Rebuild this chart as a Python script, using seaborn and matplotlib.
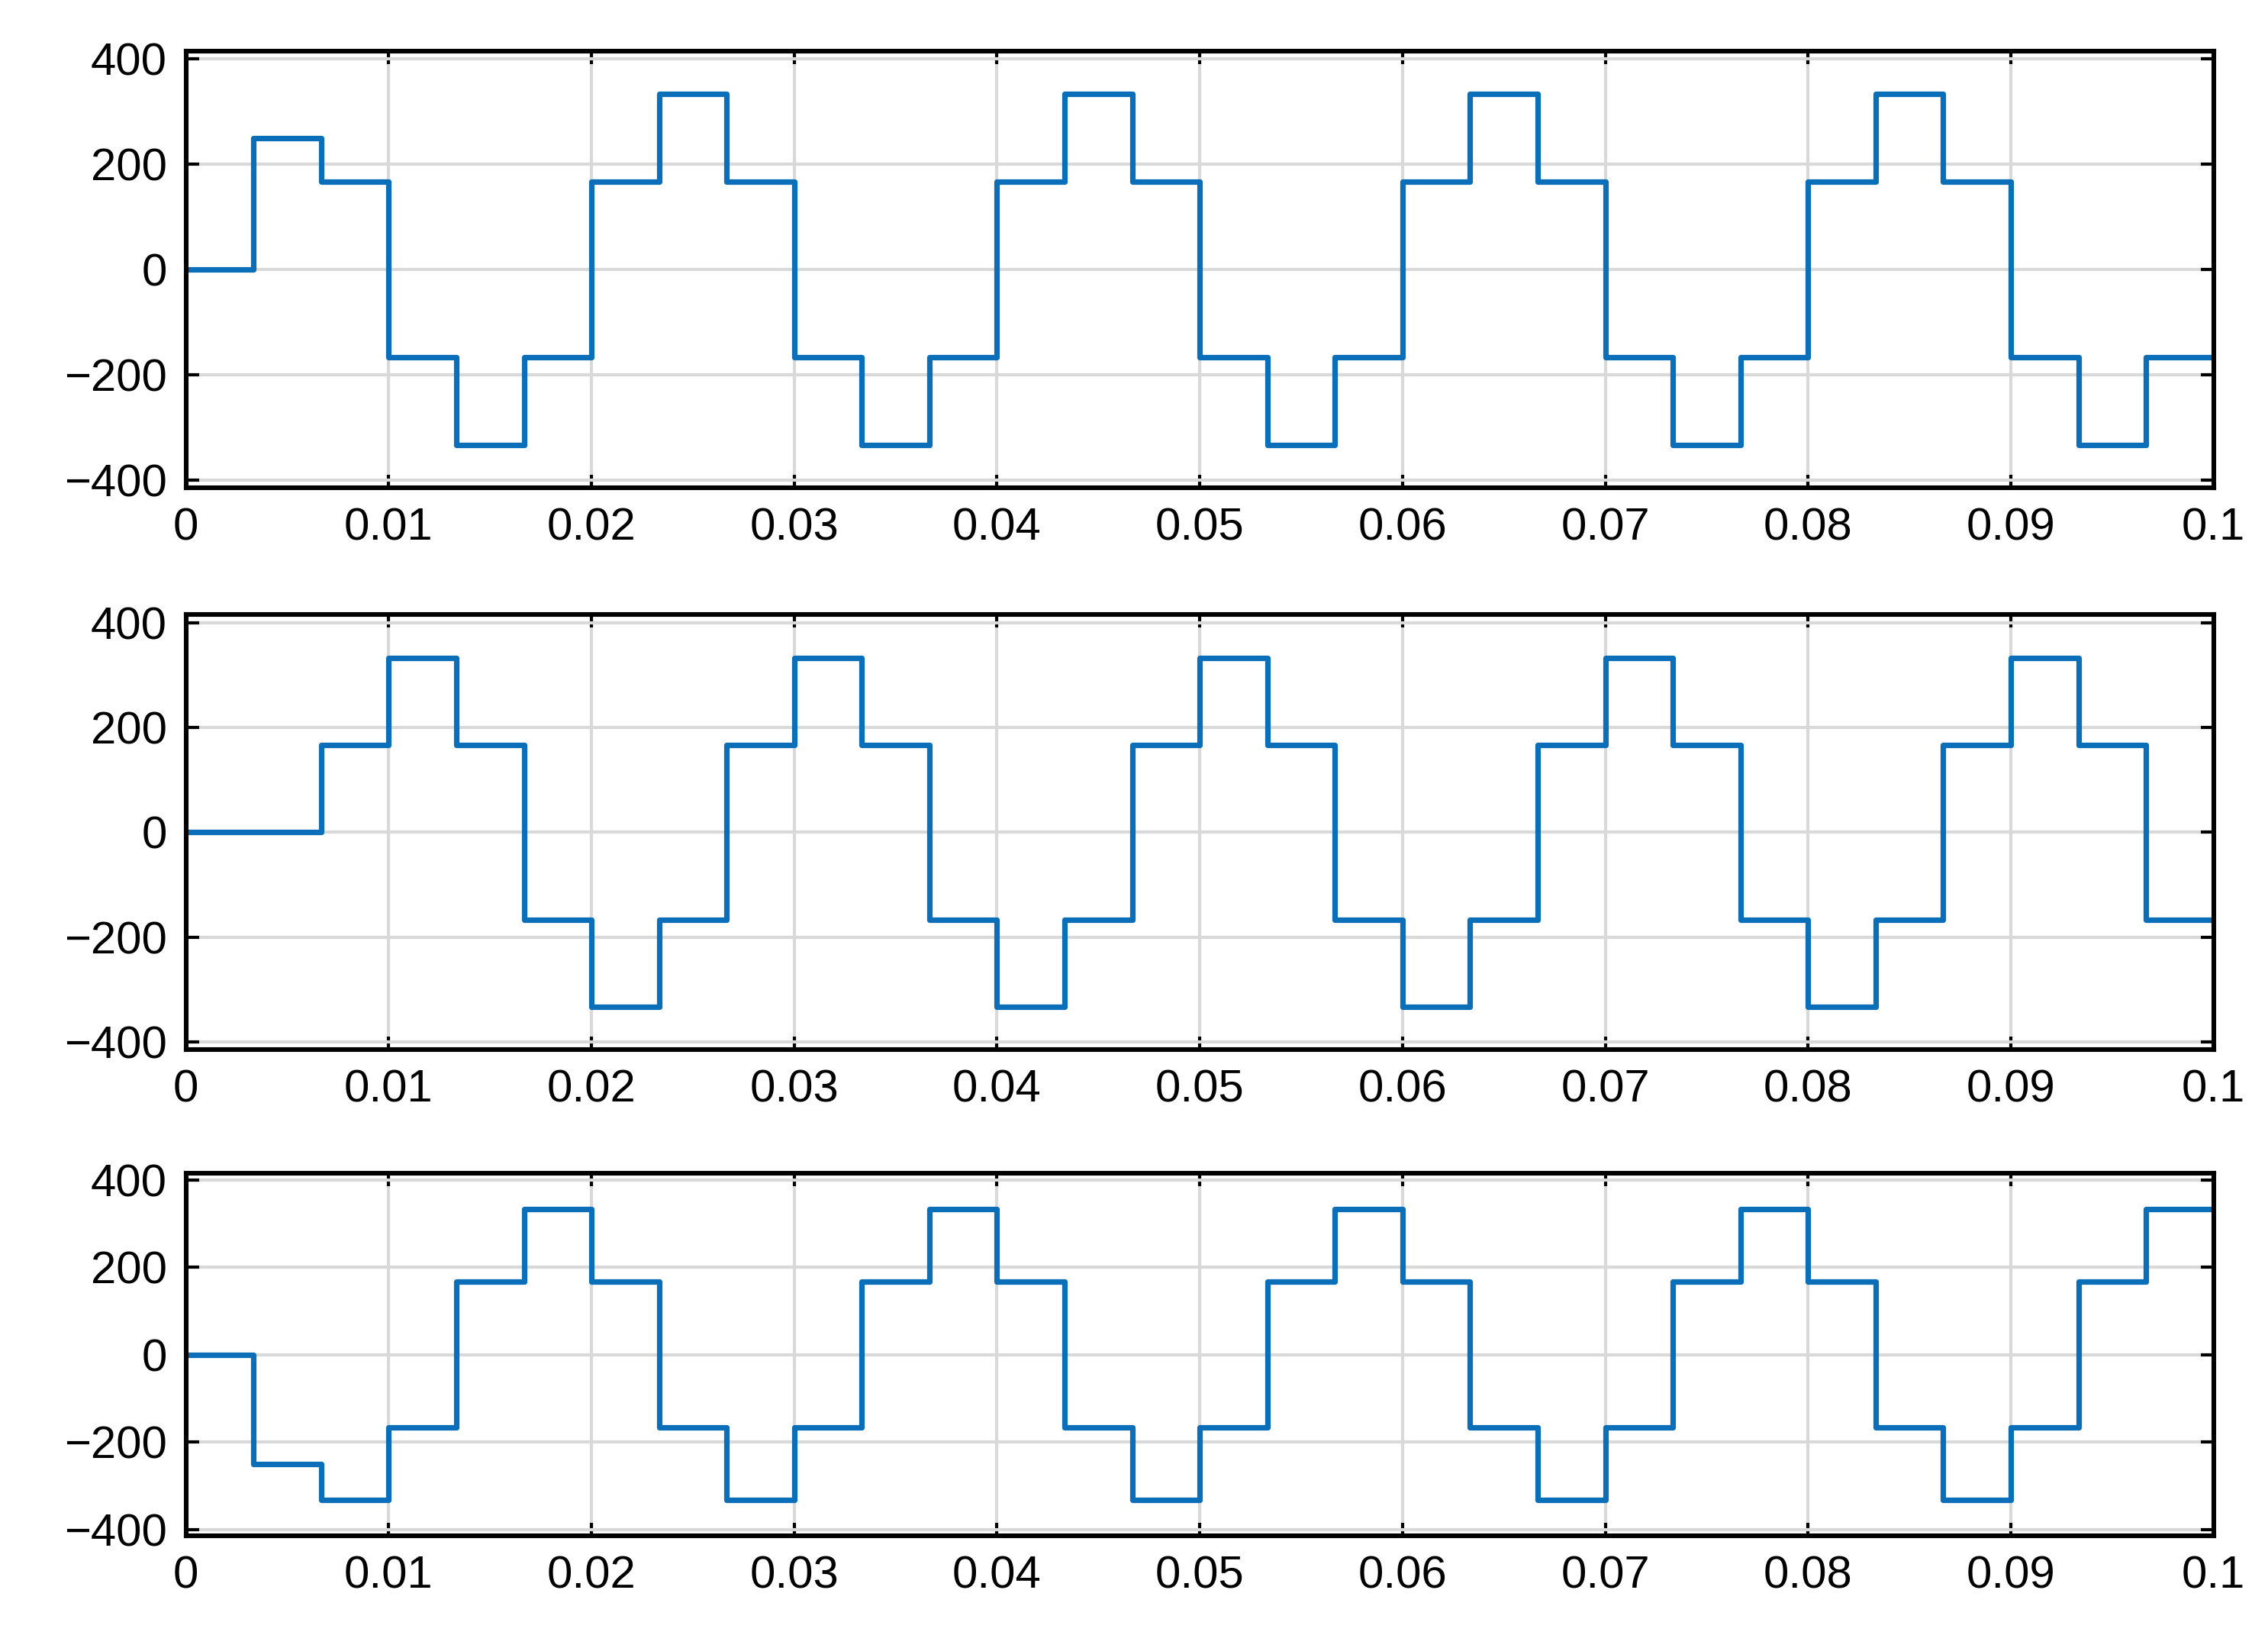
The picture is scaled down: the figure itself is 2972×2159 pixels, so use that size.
import numpy as np
import pandas as pd
import matplotlib
matplotlib.use("Agg")
import matplotlib.pyplot as plt
import seaborn as sns

# switching instants (s) and step levels (V), held until the next instant
t_edges = [i / 300 for i in range(31)]
va = [0, 250, 167, -167, -333, -167, 167, 333, 167, -167, -333, -167, 167, 333, 167,
      -167, -333, -167, 167, 333, 167, -167, -333, -167, 167, 333, 167, -167, -333, -167]
vb = [0, 0, 167, 333, 167, -167, -333, -167, 167, 333, 167, -167, -333, -167, 167,
      333, 167, -167, -333, -167, 167, 333, 167, -167, -333, -167, 167, 333, 167, -167]
vc = [0, -250, -333, -167, 167, 333, 167, -167, -333, -167, 167, 333, 167, -167, -333,
      -167, 167, 333, 167, -167, -333, -167, 167, 333, 167, -167, -333, -167, 167, 333]
xticks = [0, 0.01, 0.02, 0.03, 0.04, 0.05, 0.06, 0.07, 0.08, 0.09, 0.1]
xticklabels = ["0", "0.01", "0.02", "0.03", "0.04", "0.05", "0.06", "0.07", "0.08", "0.09", "0.1"]
yticks = [-400, -200, 0, 200, 400]
yticklabels = ["\u2212400", "\u2212200", "0", "200", "400"]

sns.set_theme(style="white")
plt.rcParams['font.family'] = ['Arial', 'Liberation Sans', 'DejaVu Sans']
fig = plt.figure(figsize=(14.86, 10.795), dpi=200)
positions = [[0.082, 0.704, 0.899 - 0.005, 0.265], [0.082, 0.363, 0.894, 0.264], [0.082, 0.068, 0.894, 0.220]]
for pos, v in zip(positions, [va, vb, vc]):
    ax = fig.add_axes(pos)
    df = pd.DataFrame({"t": t_edges, "v": list(v) + [v[-1]]})
    sns.lineplot(data=df, x="t", y="v", ax=ax, drawstyle="steps-post", color="#0a6fb8", linewidth=2.6)
    ax.set_xlim(0, 0.1)
    ax.set_ylim(-415, 415)
    ax.set_xticks(xticks)
    ax.set_xticklabels(xticklabels)
    ax.set_yticks(yticks)
    ax.set_yticklabels(yticklabels)
    ax.set_xlabel("")
    ax.set_ylabel("")
    ax.grid(True, color="#d9d9d9", linewidth=1.5)
    ax.set_axisbelow(True)
    for s in ax.spines.values():
        s.set_color("black")
        s.set_linewidth(2.2)
    ax.tick_params(axis="both", labelsize=21.5, direction="in", length=6, width=1.5,
                   top=True, right=True, bottom=True, left=True, colors="black", pad=9)
fig.savefig("out.png", dpi=200)
